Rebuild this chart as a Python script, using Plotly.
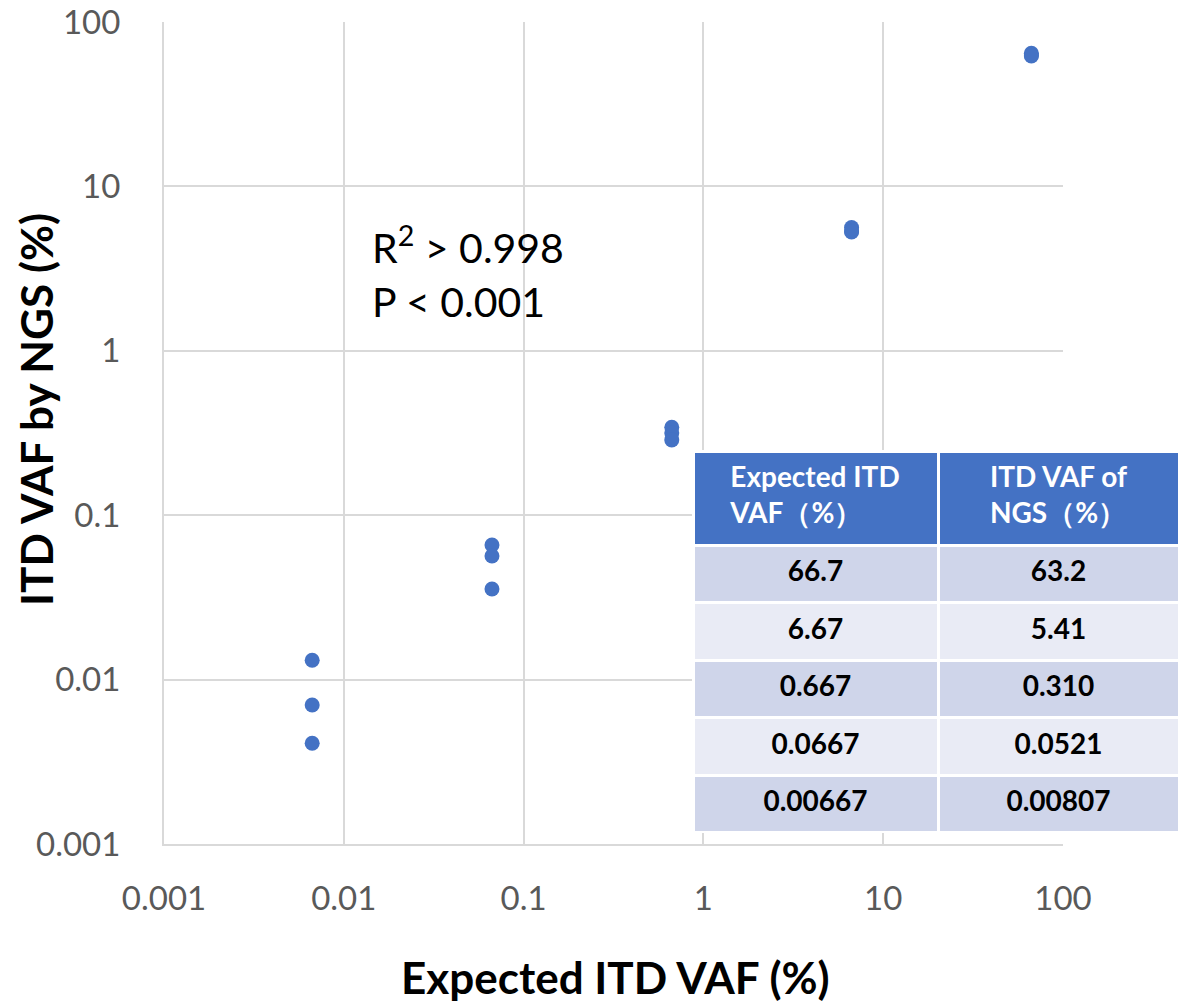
import plotly.graph_objects as go

# Data
expected_x = [0.00667, 0.00667, 0.00667,
              0.0667, 0.0667, 0.0667,
              0.667, 0.667, 0.667,
              6.67, 6.67, 6.67,
              66.7, 66.7, 66.7]
ngs_y = [0.0131, 0.0070, 0.0041,
         0.0659, 0.0565, 0.0356,
         0.343, 0.316, 0.287,
         5.62, 5.35, 5.28,
         64.6, 63.0, 62.1]

table_header = ["Expected ITD<br>VAF（%）", "ITD VAF of<br>NGS（%）"]
table_expected = ["66.7", "6.67", "0.667", "0.0667", "0.00667"]
table_ngs = ["63.2", "5.41", "0.310", "0.0521", "0.00807"]

tick_vals = [0.001, 0.01, 0.1, 1, 10, 100]
tick_text = ["0.001", "0.01", "0.1", "1", "10", "100"]

FONT = "Lato"
W, H = 1179, 1004
L, T, B = 164, 22, 160
plot_right = 1063
paper_w = W - L
paper_h = H - T - B


def lowered(values):
    # <sub> shrinks to 70% and drops the baseline, centring the text in the row
    return ["<sub>" + v + "</sub>" for v in values]


fig = go.Figure()
fig.add_trace(go.Scatter(
    x=expected_x, y=ngs_y, mode="markers",
    marker=dict(color="#4472C4", size=15),
    showlegend=False, xaxis="x", yaxis="y"))

row_fills = ["#CFD5EA", "#E9EBF5", "#CFD5EA", "#E9EBF5", "#CFD5EA"]
tbl_left = 693
fig.add_trace(go.Table(
    domain=dict(x=[(tbl_left - L) / paper_w, 1],
                y=[(844 - 833) / paper_h, (844 - 451) / paper_h]),
    columnwidth=[245, 241],
    header=dict(values=table_header, fill_color="#4472C4",
                line=dict(color="white", width=3),
                font=dict(family=FONT, size=28, color="white", weight="bold"),
                align="center", height=94),
    cells=dict(values=[lowered(table_expected), lowered(table_ngs)],
               fill_color=[row_fills, row_fills],
               line=dict(color="white", width=3),
               font=dict(family=FONT, size=40, color="black", weight="bold"),
               align="center", height=57.5),
))

fig.update_layout(
    width=W, height=H,
    margin=dict(l=L, r=0, t=T, b=B, autoexpand=False),
    plot_bgcolor="white", paper_bgcolor="white",
    font=dict(family=FONT),
    xaxis=dict(type="log", range=[-3, 2], domain=[0, (plot_right - L) / paper_w],
               tickvals=tick_vals, ticktext=tick_text, automargin=False,
               tickfont=dict(size=33, color="#595959"),
               showgrid=True, gridcolor="#D9D9D9", gridwidth=2,
               showline=True, linecolor="#D9D9D9", linewidth=2,
               ticks="", ticklabelstandoff=24, zeroline=False),
    yaxis=dict(type="log", range=[-3, 2], automargin=False,
               tickvals=tick_vals, ticktext=tick_text,
               tickfont=dict(size=33, color="#595959"),
               showgrid=True, gridcolor="#D9D9D9", gridwidth=2,
               showline=True, linecolor="#D9D9D9", linewidth=2,
               ticks="", ticklabelstandoff=35, zeroline=False),
)

fig.add_annotation(xref="paper", yref="paper",
                   x=(615 - L) / paper_w, y=(844 - 977) / paper_h,
                   text="<b>Expected ITD VAF (%)</b>", showarrow=False,
                   font=dict(size=44, color="black", family=FONT),
                   xanchor="center", yanchor="middle")
fig.add_annotation(xref="paper", yref="paper",
                   x=(36 - L) / paper_w, y=(844 - 410) / paper_h,
                   text="<b>ITD VAF by NGS (%)</b>", showarrow=False, textangle=-90,
                   font=dict(size=44, color="black", family=FONT),
                   xanchor="center", yanchor="middle")
fig.add_annotation(xref="paper", yref="paper",
                   x=(370 - L) / paper_w, y=(844 - 272) / paper_h,
                   text="R<sup>2</sup> &gt; 0.998<br>P &lt; 0.001", showarrow=False,
                   font=dict(size=41, color="black", family=FONT),
                   xanchor="left", yanchor="middle", align="left")

fig.write_html("out.html")
